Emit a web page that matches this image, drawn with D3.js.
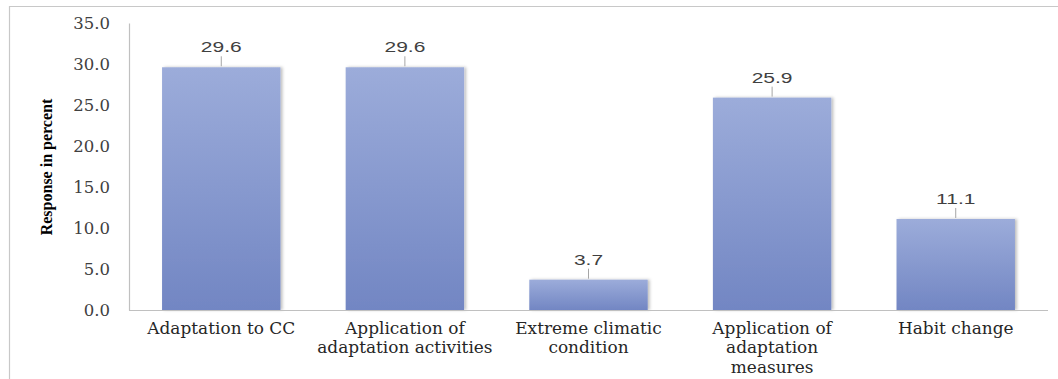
<!DOCTYPE html>
<html>
<head>
<meta charset="utf-8">
<script src="https://cdn.jsdelivr.net/npm/d3@7"></script>
<style>
  html, body { margin: 0; padding: 0; background: #fff; }
  svg { display: block; }
  .serif { font-family: "DejaVu Serif", serif; }
  .titlefont { font-family: "Liberation Serif", "Times New Roman", serif; }
  .sans { font-family: "Liberation Sans", Arial, sans-serif; }
</style>
</head>
<body>
<svg id="chart" width="1058" height="379"></svg>
<script>
// Response shares by category (percent)
const categories = [
  ["Adaptation to CC"],
  ["Application of", "adaptation activities"],
  ["Extreme climatic", "condition"],
  ["Application of", "adaptation", "measures"],
  ["Habit change"]
];
const values = [29.6, 29.6, 3.7, 25.9, 11.1];
const yTicks = [0, 5, 10, 15, 20, 25, 30, 35];
const yTitle = "Response in percent";

const svg = d3.select("#chart");
const W = 1058, H = 379;
const margin = { left: 129, right: 10, top: 23, bottom: 69 };
const plotW = W - margin.left - margin.right;
const plotH = H - margin.top - margin.bottom;
const stretch = 1.4;

// frame
svg.append("path")
  .attr("d", `M${W},6.5 H9.5 V${H}`)
  .attr("fill", "none")
  .attr("stroke", "#c8c8c8")
  .attr("stroke-width", 1.2);

const defs = svg.append("defs");
const grad = defs.append("linearGradient")
  .attr("id", "barFill").attr("x1", 0).attr("y1", 0).attr("x2", 0).attr("y2", 1);
grad.append("stop").attr("offset", "0%").attr("stop-color", "#9cacda");
grad.append("stop").attr("offset", "100%").attr("stop-color", "#7286c3");
const shadow = defs.append("filter").attr("id", "shadow")
  .attr("x", "-10%").attr("y", "-10%").attr("width", "130%").attr("height", "130%");
shadow.append("feDropShadow").attr("dx", 2).attr("dy", 0).attr("stdDeviation", 1.5)
  .attr("flood-color", "#000").attr("flood-opacity", 0.25);

const g = svg.append("g").attr("transform", `translate(${margin.left},${margin.top})`);

const x = d3.scaleBand().domain(d3.range(categories.length)).range([0, plotW]).paddingInner(0.355).paddingOuter(0.18);
const y = d3.scaleLinear().domain([0, 35]).range([plotH, 0]);

// y axis
const yAxis = g.append("g").call(
  d3.axisLeft(y).tickValues(yTicks).tickFormat(d3.format(".1f")).tickSize(0).tickPadding(0)
);
yAxis.attr("font-family", null).attr("font-size", null);
yAxis.select(".domain").attr("stroke", "#c0c0c0").attr("stroke-width", 1.2);
yAxis.selectAll("text")
  .attr("class", "serif")
  .attr("x", -19)
  .attr("dy", "0.36em")
  .style("font-size", "16.5px")
  .attr("fill", "#404040");

// bars
g.selectAll("rect.bar").data(values).join("rect")
  .attr("class", "bar")
  .attr("x", (d, i) => x(i))
  .attr("y", d => y(d))
  .attr("width", x.bandwidth())
  .attr("height", d => plotH - y(d))
  .attr("fill", "url(#barFill)")
  .attr("filter", "url(#shadow)");

// x axis line
g.append("line")
  .attr("x1", 0).attr("x2", plotW)
  .attr("y1", plotH + 0.5).attr("y2", plotH + 0.5)
  .attr("stroke", "#c0c0c0").attr("stroke-width", 1.2);

// value labels with leader lines
const lbl = g.selectAll("g.val").data(values).join("g")
  .attr("class", "val")
  .attr("transform", (d, i) => `translate(${x(i) + x.bandwidth() / 2},${y(d)})`);
lbl.append("line")
  .attr("x1", 0).attr("x2", 0).attr("y1", -1).attr("y2", -11)
  .attr("stroke", "#a6a6a6").attr("stroke-width", 1);
lbl.append("text")
  .attr("class", "sans")
  .attr("transform", `scale(${stretch},1)`)
  .attr("y", -15)
  .attr("text-anchor", "middle")
  .style("font-size", "15px")
  .attr("fill", "#404040")
  .text(d => d.toFixed(1));

// category labels
const cat = g.selectAll("g.cat").data(categories).join("g")
  .attr("class", "cat")
  .attr("transform", (d, i) => `translate(${x(i) + x.bandwidth() / 2},${plotH + 23.5})`);
cat.selectAll("text").data(d => d).join("text")
  .attr("class", "serif")
  .attr("transform", (d, j) => `translate(0,${j * 19.5}) scale(1.06,1)`)
  .attr("text-anchor", "middle")
  .style("font-size", "16px")
  .attr("fill", "#262626")
  .text(d => d);

// y axis title
svg.append("text")
  .attr("class", "titlefont")
  .attr("transform", `translate(52,167) rotate(-90)`)
  .attr("text-anchor", "middle")
  .style("font-weight", "bold")
  .style("font-size", "16px")
  .attr("fill", "#000")
  .text(yTitle);
</script>
</body>
</html>
